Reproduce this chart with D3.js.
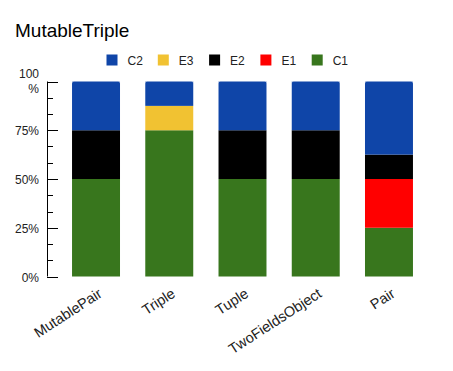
<!DOCTYPE html>
<html><head><meta charset="utf-8">
<script src="https://cdn.jsdelivr.net/npm/d3@7"></script>
<style>body{margin:0;background:#fff}svg{display:block}text{font-family:"Liberation Sans",Arial,sans-serif}</style>
</head><body>
<svg id="c" width="453" height="371"></svg>
<script>
const categories = ["MutablePair","Triple","Tuple","TwoFieldsObject","Pair"];
const seriesNames = ["C1","E1","E2","E3","C2"];
const C1 = [50,75,50,50,25];
const E1 = [0,0,0,0,25];
const E2 = [25,0,25,25,12.5];
const E3 = [0,12.5,0,0,0];
const C2 = [25,12.5,25,25,37.5];
const yTicks = [0,25,50,75,100];
const colors = {C1:"#38761d",E1:"#ff0000",E2:"#000000",E3:"#f1c232",C2:"#0f45a8"};

const seriesVals = {C1,E1,E2,E3,C2};
const rows = categories.map((c,i)=>{const r={cat:c};seriesNames.forEach(s=>r[s]=seriesVals[s][i]);return r;});
const stacked = d3.stack().keys(seriesNames)(rows);

const svg = d3.select("#c");
const x = d3.scaleBand().domain(categories).range([59.4,425.6]).paddingInner(0.345).paddingOuter(0.1725);
const y = d3.scaleLinear().domain([0,100]).range([276.5,81.5]);

svg.append("text").attr("x",15).attr("y",37).attr("font-size",19).attr("fill","#000").text("MutableTriple");

// legend
const legendOrder = seriesNames.slice().reverse();
legendOrder.forEach((s,i)=>{
  const lx = 106.5 + i*51.3;
  svg.append("rect").attr("x",lx).attr("y",54.5).attr("width",11).attr("height",11).attr("fill",colors[s]);
  svg.append("text").attr("x",lx+21).attr("y",64.5).attr("font-size",12).attr("fill","#222").text(s);
});

// bars
const g = svg.append("g");
stacked.forEach(layer=>{
  layer.forEach((d,i)=>{
    if(d[1]-d[0]<=0) return;
    g.append("rect").attr("x",x(categories[i])).attr("width",x.bandwidth())
      .attr("y",y(d[1])).attr("height",y(d[0])-y(d[1])).attr("fill",colors[layer.key]);
  });
});
// rounded tops
categories.forEach((c,i)=>{
  const yt = y(100), x0=x(c), w=x.bandwidth(), r=2;
  g.append("path").attr("d",`M${x0},${yt+r} L${x0},${yt} L${x0+r},${yt} A${r},${r} 0 0 0 ${x0},${yt+r}Z M${x0+w},${yt+r} L${x0+w},${yt} L${x0+w-r},${yt} A${r},${r} 0 0 1 ${x0+w},${yt+r}Z`).attr("fill","#fff");
});

// y axis
const ax = svg.append("g");
ax.append("line").attr("x1",47.5).attr("x2",47.5).attr("y1",y(100)).attr("y2",y(0)).attr("stroke","#000");
const minor = d3.range(0,100,25/3).map(v=>+v.toFixed(3));
minor.forEach(v=>{ if(yTicks.some(t=>Math.abs(t-v)<0.01)) return;
  ax.append("line").attr("x1",47).attr("x2",53).attr("y1",Math.round(y(v))+0.5).attr("y2",Math.round(y(v))+0.5).attr("stroke","#000");});
yTicks.forEach(v=>{
  const yy=Math.round(y(v))+0.5;
  ax.append("line").attr("x1",47).attr("x2",58).attr("y1",yy).attr("y2",yy).attr("stroke","#000");
  const t = ax.append("text").attr("text-anchor","end").attr("font-size",12).attr("fill","#222");
  if(v===100){
    t.append("tspan").attr("x",39).attr("y",yy-5).text("100");
    t.append("tspan").attr("x",39).attr("y",yy+10).text("%");
  } else {
    t.attr("x",39).attr("y",yy+4.5).text(v+"%");
  }
});

// x labels
categories.forEach(c=>{
  const cx = x(c)+x.bandwidth()/2+7, cy=296;
  svg.append("text").attr("text-anchor","end").attr("font-size",14.5).attr("fill","#222")
    .attr("transform",`translate(${cx},${cy}) rotate(-33)`).text(c);
});
</script>
</body></html>
